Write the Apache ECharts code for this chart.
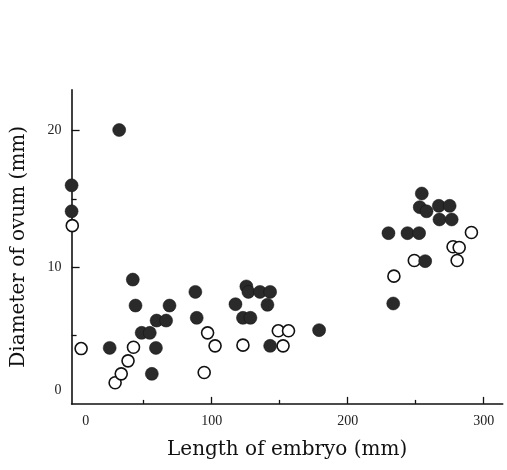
<!DOCTYPE html>
<html>
<head>
<meta charset="utf-8">
<script src="https://cdn.jsdelivr.net/npm/echarts@6/dist/echarts.min.js"></script>
<style>
  html, body { margin: 0; padding: 0; background: #fff; }
  #chart { width: 507px; height: 470px; }
</style>
</head>
<body>
<div id="chart"></div>
<script>
// filled circles: [length of embryo, diameter of ovum]
var filledPoints = [
    [-3, 16.0], [-3, 14.1], [32, 20.05], [25, 4.1], [42, 9.1], [44, 7.2],
    [69, 7.2], [59.5, 6.1], [66.5, 6.1], [48.5, 5.2], [54.5, 5.2], [59, 4.1],
    [56, 2.2], [88, 8.2], [89, 6.3], [117.5, 7.3], [125.5, 8.6], [127, 8.2],
    [135.5, 8.2], [143, 8.2], [141, 7.25], [123, 6.3], [128.5, 6.3], [143, 4.25],
    [179, 5.4], [254.5, 15.4], [253, 14.4], [258, 14.1], [267, 14.5], [275, 14.5],
    [267.5, 13.5], [276.5, 13.5], [230, 12.5], [244, 12.5], [252.5, 12.5],
    [257, 10.45], [233.5, 7.35]
];
// open circles
var openPoints = [
    [-2.5, 13.05], [4, 4.05], [29, 1.55], [33.5, 2.2], [38.5, 3.15], [42.5, 4.15],
    [97, 5.2], [102.5, 4.25], [94.5, 2.3], [123, 4.3], [152.5, 4.25], [149, 5.35],
    [156.5, 5.35], [291, 12.55], [277.5, 11.5], [282, 11.45], [280.5, 10.5],
    [249, 10.5], [234, 9.35]
];
var xLabels = [0, 100, 200, 300];
var xMajorTicks = [100, 200, 300];
var xMinorTicks = [50, 150, 250];
var yLabels = [0, 10, 20];
var yMajorTicks = [10, 20];
var yMinorTicks = [5, 15];

var serif = 'Liberation Serif';
var axisColor = '#111';

var chart = echarts.init(document.getElementById('chart'));

var option = {
    animation: false,
    backgroundColor: '#fff',
    grid: { left: 71.6, right: 4.3, top: 89.7, bottom: 66.1, containLabel: false },
    xAxis: [
        {
            type: 'value', min: -3, max: 314,
            name: 'Length of embryo (mm)', nameLocation: 'middle', nameGap: 36,
            nameTextStyle: { fontFamily: 'DejaVu Serif', fontSize: 20, color: '#111' },
            axisLine: { show: true, onZero: false, lineStyle: { color: axisColor, width: 1.6 } },
            axisTick: { show: true, inside: true, length: 7, customValues: xMajorTicks, lineStyle: { color: axisColor, width: 1.3 } },
            axisLabel: {
                customValues: xLabels, margin: 10, fontFamily: serif, fontSize: 14, color: '#222',
                formatter: function (v) { return v === 0 ? '{z|0}' : String(v); },
                rich: { z: { fontFamily: serif, fontSize: 14, color: '#222', padding: [0, 0, 0, 20] } }
            },
            splitLine: { show: false }
        },
        {   // minor ticks
            type: 'value', min: -3, max: 314, position: 'bottom',
            axisLine: { show: false, onZero: false },
            axisTick: { show: true, inside: true, length: 4, customValues: xMinorTicks, lineStyle: { color: axisColor, width: 1.3 } },
            axisLabel: { show: false },
            splitLine: { show: false }
        }
    ],
    yAxis: [
        {
            type: 'value', min: 0, max: 23,
            name: 'Diameter of ovum (mm)', nameLocation: 'middle', nameGap: 43,
            nameTextStyle: { fontFamily: 'DejaVu Serif', fontSize: 20, color: '#111' },
            axisLine: { show: true, onZero: false, lineStyle: { color: axisColor, width: 1.6 } },
            axisTick: { show: true, inside: true, length: 8, customValues: yMajorTicks, lineStyle: { color: axisColor, width: 1.3 } },
            axisLabel: {
                customValues: yLabels, margin: 10, fontFamily: serif, fontSize: 14, color: '#222',
                formatter: function (v) { return v === 0 ? '{z|0}' : String(v); },
                rich: { z: { fontFamily: serif, fontSize: 14, color: '#222', padding: [0, 0, 28, 0] } }
            },
            splitLine: { show: false }
        },
        {
            type: 'value', min: 0, max: 23, position: 'left',
            axisLine: { show: false, onZero: false },
            axisTick: { show: true, inside: true, length: 5, customValues: yMinorTicks, lineStyle: { color: axisColor, width: 1.3 } },
            axisLabel: { show: false },
            splitLine: { show: false }
        }
    ],
    series: [
        {
            name: 'open', type: 'scatter', data: openPoints,
            symbol: 'circle', symbolSize: 12,
            itemStyle: { color: '#fff', borderColor: '#111', borderWidth: 1.6, opacity: 1 }
        },
        {
            name: 'filled', type: 'scatter', data: filledPoints,
            symbol: 'circle', symbolSize: 13,
            itemStyle: { color: '#2a2a2a', borderColor: '#111', borderWidth: 0.5, opacity: 1 }
        }
    ]
};

chart.setOption(option);
</script>
</body>
</html>
